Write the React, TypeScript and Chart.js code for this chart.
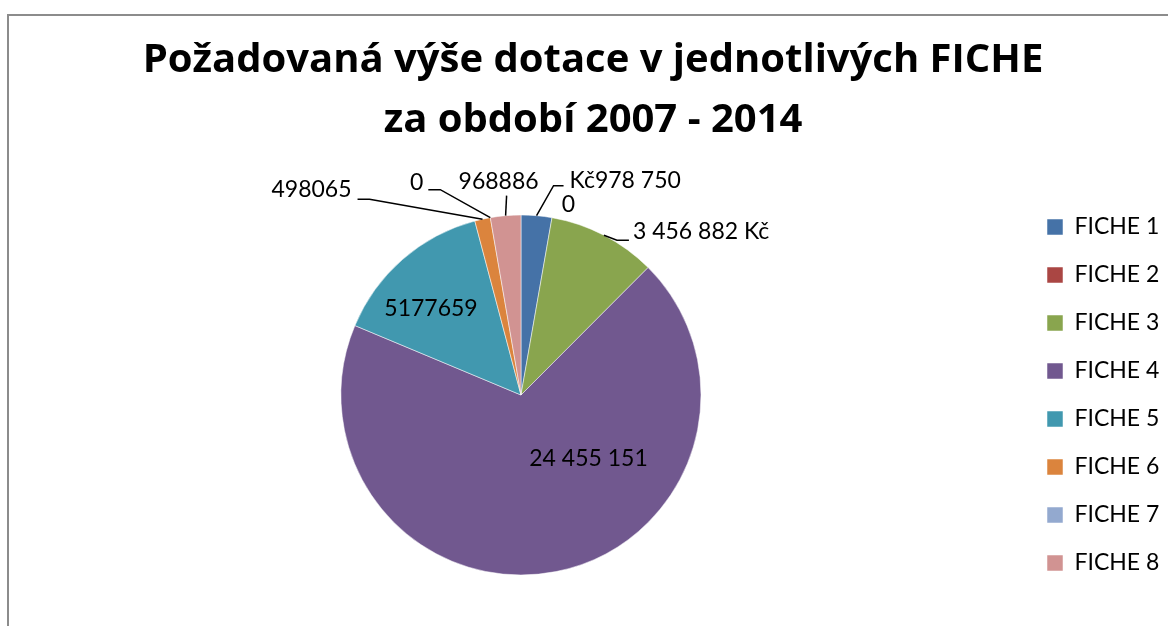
import React, { useEffect, useRef } from "react";
import { Chart, registerables } from "chart.js";

Chart.register(...registerables);

const categories = ["FICHE 1", "FICHE 2", "FICHE 3", "FICHE 4", "FICHE 5", "FICHE 6", "FICHE 7", "FICHE 8"];
const values = [978750, 0, 3456882, 24455151, 5177659, 498065, 0, 968886];
const valueLabels = ["Kč978 750", "0", "3 456 882 Kč", "24 455 151", "5177659", "498065", "0", "968886"];
const sliceColors = ["#4572A7", "#AA4643", "#89A54E", "#71588F", "#4198AF", "#DB843D", "#93A9CF", "#D19392"];
const titleLines = ["Požadovaná výše dotace v jednotlivých FICHE", "za období 2007 - 2014"];

// label placement (relative to slice's outer-edge midpoint, or pie centre)
type LabelSpec = {
  from: "edge" | "center";
  text: [number, number];
  align: CanvasTextAlign;
  leader?: [number, number][];
};
const labelLayout: LabelSpec[] = [
  { from: "edge", text: [33, -35], align: "left", leader: [[17, -30], [27, -30]] },
  { from: "edge", text: [16.5, -12.7], align: "center" },
  { from: "edge", text: [29, -3.7], align: "left", leader: [[13, 5], [25, 5]] },
  { from: "center", text: [67.5, 63.5], align: "center" },
  { from: "center", text: [-90, -86], align: "center" },
  { from: "edge", text: [-131, -29.4], align: "right", leader: [[-113, -20], [-125, -20]] },
  { from: "edge", text: [-67, -35], align: "right", leader: [[-50, -28], [-62, -28]] },
  { from: "edge", text: [-7, -34], align: "center", leader: [[1, -20]] },
];

const FONT = "Lato, 'Open Sans', sans-serif";
const TITLE_FONT = "'Open Sans', Lato, sans-serif";

const labelPlugin = {
  id: "sliceLabels",
  afterDatasetsDraw(chart: any) {
    const meta = chart.getDatasetMeta(0);
    const ctx = chart.ctx as CanvasRenderingContext2D;
    ctx.save();
    ctx.font = `23px ${FONT}`;
    ctx.fillStyle = "#000";
    ctx.strokeStyle = "#000";
    ctx.lineWidth = 1.5;
    ctx.textBaseline = "middle";
    meta.data.forEach((arc: any, i: number) => {
      const spec = labelLayout[i];
      if (!spec) return;
      const p = arc.getProps(["x", "y", "startAngle", "endAngle", "outerRadius"], true);
      const mid = (p.startAngle + p.endAngle) / 2;
      const ex = p.x + Math.cos(mid) * p.outerRadius;
      const ey = p.y + Math.sin(mid) * p.outerRadius;
      const ax = spec.from === "edge" ? ex : p.x;
      const ay = spec.from === "edge" ? ey : p.y;
      if (spec.leader) {
        ctx.beginPath();
        ctx.moveTo(ex, ey);
        spec.leader.forEach(([dx, dy]) => ctx.lineTo(ax + dx, ay + dy));
        ctx.stroke();
      }
      ctx.textAlign = spec.align;
      ctx.fillText(valueLabels[i], ax + spec.text[0], ay + spec.text[1]);
    });
    ctx.restore();
  },
};

export default function App() {
  const canvasRef = useRef<HTMLCanvasElement | null>(null);

  useEffect(() => {
    document.body.style.margin = "0";
    const canvas = canvasRef.current;
    if (!canvas) return;
    const chart = new Chart(canvas, {
      type: "pie",
      data: {
        labels: categories,
        datasets: [
          {
            data: values,
            backgroundColor: sliceColors,
            borderColor: "rgba(255,255,255,0.5)",
            borderWidth: 1,
          },
        ],
      },
      options: {
        responsive: false,
        animation: false,
        devicePixelRatio: 1,
        radius: 180,
        layout: { padding: { left: 20, right: 2, top: 0, bottom: 0 } },
        plugins: {
          title: {
            display: true,
            text: titleLines,
            color: "#000",
            font: { family: TITLE_FONT, size: 40, weight: "bold", lineHeight: 60 / 40 },
            padding: { top: 31, bottom: 13 },
          },
          legend: {
            position: "right",
            fullSize: false,
            maxWidth: 144,
            labels: {
              color: "#000",
              font: { family: FONT, size: 23 },
              boxWidth: 16,
              boxHeight: 16,
              padding: 25,
            },
          },
          tooltip: { enabled: false },
        },
      } as any,
      plugins: [labelPlugin],
    });
    return () => chart.destroy();
  }, []);

  return (
    <div style={{ position: "fixed", left: 0, top: 0, width: 1168, height: 626, background: "#fff" }}>
      <div
        style={{
          position: "absolute",
          left: 7,
          top: 14,
          width: 1200,
          height: 700,
          borderLeft: "2px solid #8c8c8c",
          borderTop: "2px solid #8c8c8c",
        }}
      />
      <canvas
        ref={canvasRef}
        width={1168}
        height={626}
        style={{ position: "absolute", left: 0, top: 0, display: "block" }}
      />
    </div>
  );
}
